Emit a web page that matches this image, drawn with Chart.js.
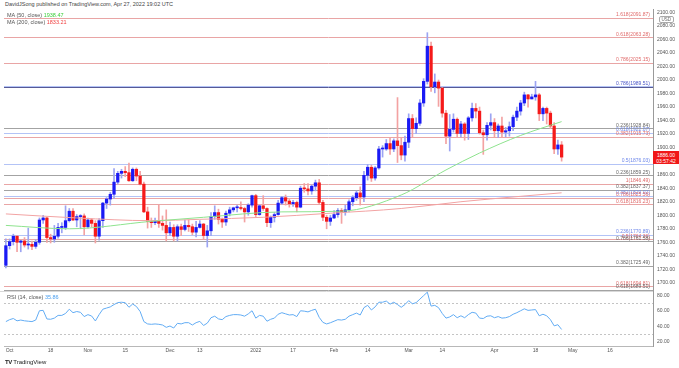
<!DOCTYPE html>
<html>
<head>
<meta charset="utf-8">
<script src="https://cdn.jsdelivr.net/npm/chart.js@4.4.0/dist/chart.umd.min.js"></script>
<style>
  html, body { margin: 0; padding: 0; background: #fff; }
  body { width: 679px; height: 368px; position: relative; overflow: hidden; font-family: "Liberation Sans", Arial, sans-serif; }
  .txt { position: absolute; font-size: 5.5px; line-height: 6px; color: #555; white-space: nowrap; }
  #mainBox { position: absolute; left: 0; top: 9px; width: 679px; height: 282px; }
  #rsiBox { position: absolute; left: 0; top: 291px; width: 679px; height: 65px; }
  #lastPrice { position: absolute; left: 653px; top: 151px; width: 26px; height: 13px; background: #f01818; color: #fff; font-size: 5px; line-height: 6px; text-align: center; padding-top: 0.5px; box-sizing: border-box; }
  #usd { position: absolute; left: 659px; top: 16px; font-size: 4.5px; line-height: 5px; color: #666; border: 0.5px solid #aaa; border-radius: 2px; padding: 0 1.5px; }
</style>
</head>
<body>
<div class="txt" style="left:5px; top:1px; color:#444;">DavidJSong published on TradingView.com, Apr 27, 2022 19:02 UTC</div>
<div id="mainBox"><canvas id="chart-main"></canvas></div>
<div id="rsiBox"><canvas id="chart-rsi"></canvas></div>
<div class="txt" style="left:7px; top:12px;">MA (50, close) <span style="color:#3ccf3c;">1938.47</span></div>
<div class="txt" style="left:7px; top:19px;">MA (200, close) <span style="color:#f04040;">1833.21</span></div>
<div class="txt" style="left:7px; top:294px;">RSI (14, close) <span style="color:#4a9ff0;">35.86</span></div>
<div id="usd">USD</div>
<div id="lastPrice">1886.00<br>03:57:42</div>
<div class="txt" style="left:5px; top:359px; font-size:6px; color:#222;"><b style="letter-spacing:-0.5px;">TV</b> TradingView</div>
<script>
// daily bars, Sep 30 2021 -> Apr 27 2022 (index 0 = Sep 30)
const opens = [
  1726,1755,1761,1769,1760,1762,1756,1757,1754,1760,
  1793,1796,1767,1765,1769,1782,1782,1792,1806,1793,
  1798,1799,1783,1793,1788,1769,1792,1818,1824,1831,
  1849,1862,1865,1863,1851,1868,1858,1846,1805,1791,
  1789,1792,1788,1785,1774,1782,1769,1783,1779,1785,
  1783,1775,1782,1787,1770,1777,1798,1804,1794,1790,
  1803,1808,1811,1811,1810,1805,1815,1829,1801,1814,
  1810,1789,1797,1801,1818,1826,1821,1817,1819,1812,
  1840,1839,1836,1843,1848,1819,1797,1791,1796,1801,
  1807,1805,1808,1820,1826,1833,1827,1859,1871,1855,
  1870,1898,1898,1906,1898,1910,1903,1889,1908,1943,
  1928,1936,1966,1998,2050,1990,1997,1988,1951,1917,
  1927,1942,1921,1935,1921,1944,1958,1954,1922,1919,
  1933,1937,1925,1932,1923,1925,1931,1945,1954,1966,
  1978,1972,1975,1978,1950,1958,1951,1932,1898,1904
];
const highs = [
  1765,1765,1772,1770,1763,1767,1781,1762,1764,1796,
  1800,1797,1772,1785,1788,1789,1814,1810,1810,1801,
  1801,1802,1796,1795,1792,1795,1819,1826,1834,1869,
  1865,1868,1872,1877,1870,1870,1865,1849,1812,1796,
  1796,1815,1799,1808,1790,1786,1786,1787,1793,1793,
  1787,1791,1792,1788,1785,1804,1814,1809,1796,1806,
  1812,1812,1815,1820,1812,1817,1830,1831,1815,1829,
  1811,1799,1804,1822,1828,1830,1824,1822,1821,1843,
  1847,1847,1845,1852,1853,1822,1800,1800,1807,1810,
  1810,1815,1823,1829,1836,1842,1865,1875,1874,1872,
  1902,1903,1912,1914,1913,1974,1914,1917,1950,1949,
  1944,1971,2002,2070,2056,2009,2000,1989,1955,1949,
  1950,1944,1939,1937,1946,1966,1965,1960,1926,1937,
  1950,1943,1935,1945,1930,1938,1948,1960,1970,1982,
  1979,1979,1998,1980,1960,1960,1954,1937,1911,1909
];
const lows = [
  1722,1750,1756,1746,1746,1753,1750,1749,1751,1757,
  1788,1760,1759,1760,1766,1774,1779,1790,1792,1783,
  1780,1771,1781,1783,1759,1763,1782,1810,1815,1825,
  1846,1855,1857,1850,1850,1851,1845,1804,1781,1782,
  1786,1782,1778,1762,1770,1762,1762,1770,1777,1776,
  1771,1768,1781,1765,1753,1770,1794,1787,1782,1785,
  1799,1805,1805,1808,1790,1800,1812,1798,1800,1807,
  1783,1782,1790,1800,1816,1815,1812,1813,1805,1811,
  1834,1830,1831,1836,1816,1792,1780,1785,1795,1797,
  1788,1800,1805,1814,1822,1815,1820,1852,1850,1852,
  1868,1886,1896,1890,1894,1878,1882,1880,1900,1915,
  1921,1933,1961,1994,1983,1981,1961,1945,1906,1895,
  1923,1915,1916,1911,1912,1939,1944,1920,1890,1911,
  1926,1915,1915,1915,1916,1917,1925,1940,1948,1962,
  1960,1972,1970,1940,1940,1935,1928,1891,1890,1880
];
const closes = [
  1755,1761,1769,1760,1762,1756,1757,1754,1760,1793,
  1796,1767,1765,1769,1782,1782,1792,1806,1793,1798,
  1799,1783,1793,1788,1769,1792,1818,1824,1831,1849,
  1862,1865,1863,1851,1868,1858,1846,1805,1791,1789,
  1792,1788,1785,1774,1782,1769,1783,1779,1785,1783,
  1775,1782,1787,1770,1777,1798,1804,1794,1790,1803,
  1808,1811,1811,1810,1805,1815,1829,1801,1814,1810,
  1789,1797,1801,1818,1826,1821,1817,1819,1812,1840,
  1839,1836,1843,1848,1819,1797,1791,1796,1801,1807,
  1805,1808,1820,1826,1833,1827,1859,1871,1855,1870,
  1898,1898,1906,1898,1910,1903,1889,1908,1943,1928,
  1936,1966,1998,2050,1990,1997,1988,1951,1917,1927,
  1942,1921,1935,1921,1944,1958,1954,1922,1919,1933,
  1937,1925,1932,1923,1925,1931,1945,1954,1966,1978,
  1972,1975,1978,1950,1958,1951,1932,1898,1904,1886
];

// moving averages, read at a few bars
const ma50Idx = [0, 17, 39, 53, 74, 90, 106, 118, 127, 138, 149];
const ma50Val = [1785, 1780, 1791, 1797, 1805, 1806, 1830, 1867, 1892, 1918, 1938.47];
const ma200Idx = [0, 19, 39, 52, 69, 87, 106, 122, 138, 149];
const ma200Val = [1802, 1796, 1792, 1794, 1797, 1803, 1810, 1820, 1828, 1833.21];

// RSI(14), one value per bar
const rsiValues = [
  46,48.5,50,47,48,47,46.5,46,48,60,
  60.5,49.4,49,50.5,54,54,56.5,62,57.5,59,
  58,52.5,55,53.2,46.8,55,62,63.5,65,68,
  70.5,71,70.4,64.5,68.7,65.5,59,46,43,42.5,
  43,42.5,41.6,38.6,40.3,37.7,43.8,43,44.6,44.6,
  41.6,44.6,46.3,41,44,51,53,49.5,48.5,52.5,
  54,55,55,54.5,53,56,60,50.5,54,53,
  46.5,49,50.5,55.5,57.5,56,54.5,55,52.5,60,
  59.5,58.5,60.5,62,51.5,45,43,44.5,46.5,48.5,
  48,49,53,55,57,54.5,64,67,61,65,
  71,71,72.5,68.5,71,68,64.5,68,73,69,
  70.5,75,79.5,84,66,67,64,56.5,50.5,52,
  55,51,53.5,51,55,58,57,50.5,50,53,
  53.5,51,52.5,50.5,51,52.5,55.5,57.5,60,62.5,
  60.5,61,61.5,53.5,55.5,53.5,48.5,40.5,42,35.86
];

// horizontal fibonacci levels drawn on the price pane
const fibPrices = [2091.87, 2063.28, 2025.15, 1990.6, 1989.51, 1928.84, 1922.07, 1915.73, 1876.03, 1859.25,
  1846.49, 1837.37, 1829.02, 1825.56, 1816.23, 1770.89, 1764.36, 1761.58, 1725.49, 1694.81, 1689.51];
const fibTexts = ['1.618(2091.87)', '0.618(2063.28)', '0.786(2025.15)', '', '0.786(1989.51)', '0.236(1928.84)',
  '0.618(1922.07)', '0.382(1915.73)', '0.5(1876.03)', '0.236(1859.25)', '1(1846.49)', '0.382(1837.37)',
  '0.382(1829.02)', '0.786(1825.56)', '0.618(1816.23)', '0.236(1770.89)', '0.5(1764.36)', '0.786(1761.58)',
  '0.382(1725.49)', '0.618(1694.81)', '0.618(1689.51)'];
const fibKinds = ['red', 'red', 'red', 'blue', 'navy', 'gray', 'blue', 'red', 'blue', 'gray',
  'red', 'gray', 'blue', 'red', 'red', 'blue', 'red', 'gray', 'gray', 'red', 'gray'];

const priceTicks = [1700, 1720, 1740, 1760, 1780, 1800, 1820, 1840, 1860, 1880, 1900, 1920, 1940,
  1960, 1980, 2000, 2020, 2040, 2060, 2080, 2100];
const rsiTicks = [20, 40, 60, 80];
const rsiBands = [70, 30];

// x axis: 150 bars + empty future slots
const slotCount = 174;
const xTickIdx = [1, 12, 22, 32, 44, 52, 67, 77, 88, 97, 108, 117, 131, 142, 152, 162];
const xTickText = ['Oct', '18', 'Nov', '15', 'Dec', '13', '2022', '17', 'Feb', '14', 'Mar', '14', 'Apr', '18', 'May', '16'];

const COLORS = {
    up: '#1a1af5', down: '#f51a1a',
    upWick: '#9ca4f2', downWick: '#f3a2a2',
    ma50: '#8ee38e', ma200: '#f2a3a3',
    rsi: '#62acf4',
    line: { red: '#e9a5a5', gray: '#a3a3a3', blue: '#b3c3f6', navy: '#575a96' },
    text: { red: '#e06a6a', gray: '#666', blue: '#6f88ea', navy: '#4a56c8' }
};

const fixAxisWidth = w => scale => {
    scale.width = w;
    scale.paddingTop = 0;
    scale.paddingBottom = 0;
};

const levelLines = {
    id: 'levelLines',
    beforeDatasetsDraw(chart) {
        const { ctx, chartArea: a } = chart;
        const y = chart.scales.y;
        ctx.save();
        ctx.lineWidth = 1;
        fibPrices.forEach((p, i) => {
            const py = Math.round(y.getPixelForValue(p)) + 0.5;
            ctx.strokeStyle = COLORS.line[fibKinds[i]];
            ctx.beginPath();
            ctx.moveTo(a.left, py);
            ctx.lineTo(a.right, py);
            ctx.stroke();
        });
        ctx.restore();
    },
    afterDatasetsDraw(chart) {
        const { ctx, chartArea: a } = chart;
        const y = chart.scales.y;
        ctx.save();
        ctx.font = '5px "Liberation Sans", Arial, sans-serif';
        ctx.textAlign = 'right';
        ctx.textBaseline = 'bottom';
        fibPrices.forEach((p, i) => {
            if (!fibTexts[i]) return;
            ctx.fillStyle = COLORS.text[fibKinds[i]];
            ctx.fillText(fibTexts[i], a.right - 3, y.getPixelForValue(p) - 0.5);
        });
        ctx.restore();
    }
};

const rsiFrame = {
    id: 'rsiFrame',
    beforeDatasetsDraw(chart) {
        const { ctx, chartArea: a } = chart;
        const y = chart.scales.y;
        ctx.save();
        ctx.strokeStyle = '#c4c4c4';
        ctx.lineWidth = 1;
        ctx.setLineDash([2, 2]);
        rsiBands.forEach(v => {
            const py = Math.round(y.getPixelForValue(v)) + 0.5;
            ctx.beginPath();
            ctx.moveTo(a.left, py);
            ctx.lineTo(a.right, py);
            ctx.stroke();
        });
        ctx.setLineDash([]);
        ctx.strokeStyle = '#d8d8d8';
        ctx.beginPath();
        ctx.moveTo(0, a.top + 0.5);
        ctx.lineTo(a.right, a.top + 0.5);
        ctx.stroke();
        ctx.restore();
    }
};

const slots = Array.from({ length: slotCount }, (_, i) => i);

function buildMain() {
    const bodies = closes.map((c, i) => [opens[i], c]);
    const wicks = closes.map((c, i) => [lows[i], highs[i]]);
    const up = closes.map((c, i) => c >= opens[i]);
    new Chart(document.getElementById('chart-main'), {
        type: 'bar',
        data: {
            labels: slots,
            datasets: [
                { type: 'line', data: ma50Idx.map((x, i) => ({ x, y: ma50Val[i] })), borderColor: COLORS.ma50,
                  borderWidth: 1, pointRadius: 0, cubicInterpolationMode: 'monotone', order: 0 },
                { type: 'line', data: ma200Idx.map((x, i) => ({ x, y: ma200Val[i] })), borderColor: COLORS.ma200,
                  borderWidth: 1, pointRadius: 0, cubicInterpolationMode: 'monotone', order: 1 },
                { data: bodies, backgroundColor: up.map(u => u ? COLORS.up : COLORS.down),
                  barThickness: 2.6, grouped: false, minBarLength: 1, order: 2 },
                { data: wicks, backgroundColor: up.map(u => u ? COLORS.upWick : COLORS.downWick),
                  barThickness: 1, grouped: false, order: 3 }
            ]
        },
        options: {
            responsive: true, maintainAspectRatio: false, animation: false,
            layout: { padding: { left: 4, right: 0, top: 0, bottom: 0 } },
            plugins: { legend: { display: false }, tooltip: { enabled: false } },
            scales: {
                x: { display: false, offset: true },
                y: {
                    position: 'right', min: 1688, max: 2105,
                    grid: { display: false, drawTicks: false },
                    border: { display: true, color: '#9a9a9a' },
                    afterBuildTicks: s => { s.ticks = priceTicks.map(v => ({ value: v })); },
                    afterFit: fixAxisWidth(26),
                    ticks: { autoSkip: false, padding: 4, color: '#555', font: { size: 5, family: '"Liberation Sans", Arial' },
                             callback: v => v.toFixed(2) }
                }
            }
        },
        plugins: [levelLines]
    });
}

function buildRsi() {
    new Chart(document.getElementById('chart-rsi'), {
        type: 'line',
        data: {
            labels: slots,
            datasets: [
                { data: rsiValues, borderColor: COLORS.rsi, borderWidth: 1, pointRadius: 0, tension: 0 }
            ]
        },
        options: {
            responsive: true, maintainAspectRatio: false, animation: false,
            layout: { padding: { left: 4, right: 0, top: 0, bottom: 0 } },
            plugins: { legend: { display: false }, tooltip: { enabled: false } },
            scales: {
                x: {
                    offset: true,
                    grid: { display: false, drawTicks: false },
                    border: { display: true, color: '#b8b8b8' },
                    afterFit: s => { s.height = 10; s.paddingLeft = 0; s.paddingRight = 0; },
                    ticks: { autoSkip: false, maxRotation: 0, padding: 2, color: '#555',
                             font: { size: 5, family: '"Liberation Sans", Arial' },
                             callback: (v, i) => { const k = xTickIdx.indexOf(i); return k >= 0 ? xTickText[k] : ''; } }
                },
                y: {
                    position: 'right', min: 14.5, max: 85.5,
                    grid: { display: false, drawTicks: false },
                    border: { display: true, color: '#9a9a9a' },
                    afterBuildTicks: s => { s.ticks = rsiTicks.map(v => ({ value: v })); },
                    afterFit: fixAxisWidth(26),
                    ticks: { autoSkip: false, padding: 4, color: '#555', font: { size: 5, family: '"Liberation Sans", Arial' },
                             callback: v => v.toFixed(2) }
                }
            }
        },
        plugins: [rsiFrame]
    });
}

document.addEventListener('DOMContentLoaded', () => {
    buildMain();
    buildRsi();
});
</script>
</body>
</html>
